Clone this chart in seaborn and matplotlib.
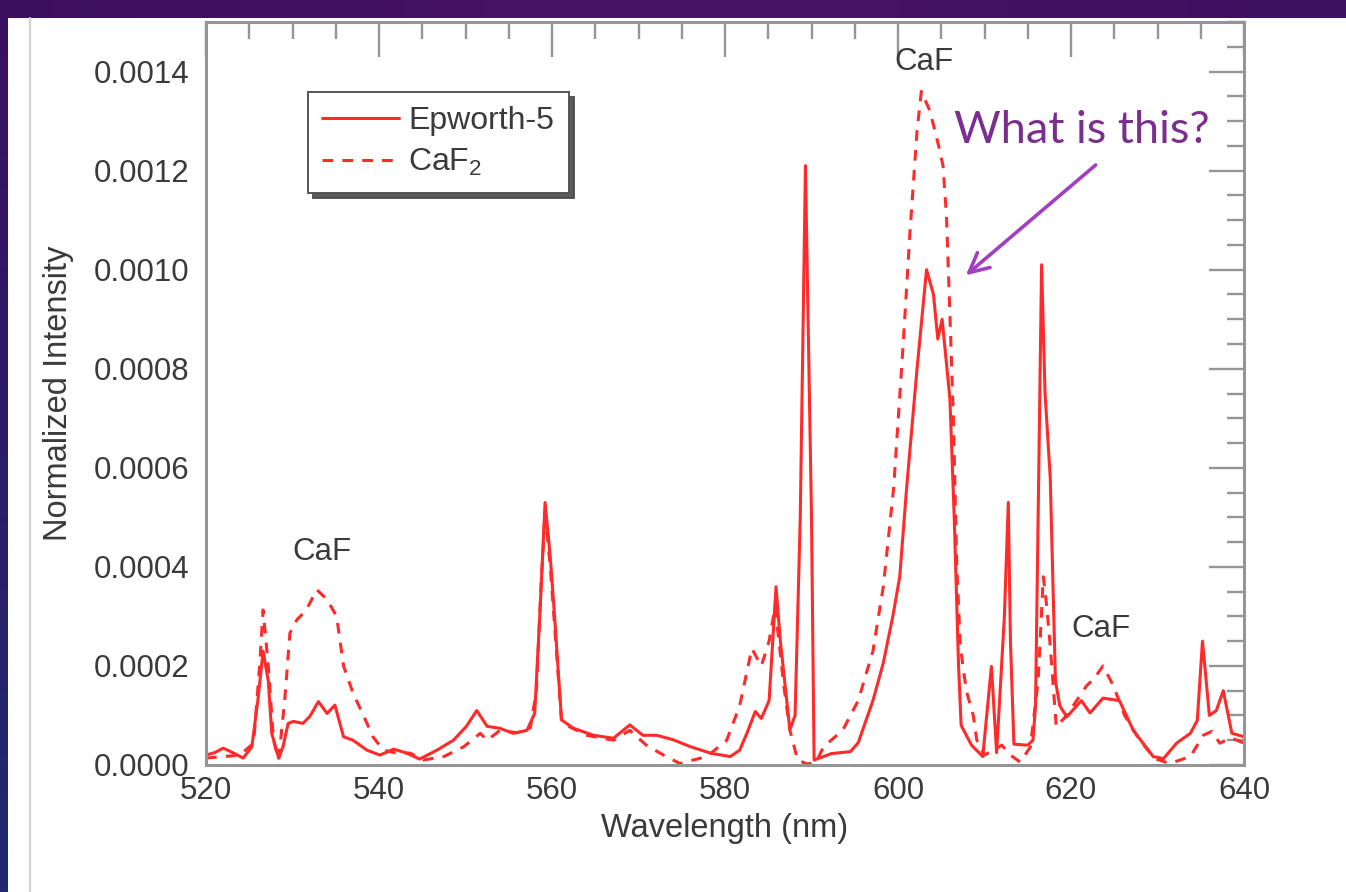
import numpy as np
import pandas as pd
import matplotlib
matplotlib.use("Agg")
import matplotlib.pyplot as plt
import seaborn as sns
from matplotlib.ticker import MultipleLocator, StrMethodFormatter

# ---------------- data ----------------
epworth_nm = [520, 521, 522, 523.2, 524.3, 525.3, 526.0, 526.6, 527.2, 527.6, 528.4, 528.9,
              529.5, 530.1, 531.2, 532.0, 533.0, 534.0, 534.9, 535.9, 537.0, 538.6, 540.1,
              541.7, 543.2, 544.7, 546.7, 548.6, 550.1, 551.3, 552.5, 554.0, 555.5, 557.1,
              558.0, 558.6, 559.2, 559.8, 560.3, 561.1, 562.5, 564.8, 567.1, 569.0, 570.5,
              572.1, 574.0, 576.0, 578.3, 580.6, 581.7, 582.6, 583.5, 584.2, 585.1, 585.9,
              586.4, 587.5, 588.1, 588.7, 589.3, 590.0, 590.3, 592.3, 594.5, 595.4, 597.1,
              598.3, 599.4, 600.2, 601.0, 602.2, 603.3, 604.1, 604.6, 605.1, 606.0, 606.5,
              607.0, 607.3, 608.5, 609.8, 610.8, 611.4, 612.3, 612.75, 613.0, 613.4, 615.0,
              615.6, 615.9, 616.2, 616.6, 617.0, 617.6, 618.2, 618.7, 619.5, 621.2, 622.2,
              623.7, 625.6, 627.2, 629.5, 630.7, 632.2, 633.8, 634.6, 635.2, 636.0, 636.8,
              637.6, 638.6, 640.0]
epworth_int = [0.20, 0.25, 0.34, 0.24, 0.14, 0.37, 1.31, 2.30, 1.70, 0.64, 0.14, 0.37,
               0.84, 0.88, 0.84, 0.98, 1.28, 1.04, 1.21, 0.57, 0.50, 0.30, 0.20,
               0.32, 0.24, 0.12, 0.30, 0.50, 0.78, 1.10, 0.78, 0.74, 0.64, 0.70,
               1.04, 3.06, 5.30, 4.20, 3.00, 0.91, 0.74, 0.60, 0.54, 0.81, 0.60,
               0.60, 0.51, 0.37, 0.24, 0.17, 0.30, 0.67, 1.08, 0.94, 1.30, 3.60,
               2.50, 0.71, 1.00, 5.00, 12.10, 5.00, 0.10, 0.23, 0.27, 0.45, 1.30,
               2.06, 3.00, 3.80, 5.60, 8.00, 10.00, 9.50, 8.60, 9.00, 7.40, 5.00,
               2.00, 0.80, 0.40, 0.17, 1.99, 0.25, 3.00, 5.30, 2.50, 0.42, 0.40,
               0.50, 1.20, 5.00, 10.10, 7.50, 5.80, 1.70, 1.20, 0.97, 1.30, 1.05,
               1.35, 1.30, 0.70, 0.17, 0.13, 0.44, 0.64, 0.90, 2.50, 1.00, 1.10,
               1.50, 0.64, 0.57]

caf2_nm = [520, 522, 523.9, 525.5, 526.2, 526.6, 527.2, 527.8, 528.4, 529.1, 529.7, 530.5,
           531.6, 532.8, 534.0, 535.1, 535.9, 537.0, 538.2, 539.3, 540.5, 542.0, 543.6,
           545.1, 547.5, 549.8, 551.7, 552.5, 554.0, 556.0, 557.5, 558.2, 558.7, 559.2,
           559.8, 560.3, 561.1, 561.7, 564.0, 567.1, 569.0, 570.9, 573.2, 574.8, 576.3,
           577.9, 580.2, 581.7, 583.1, 584.2, 585.1, 585.8, 586.8, 587.5, 588.4, 589.5,
           590.5, 591.4, 593.6, 595.4, 597.1, 598.3, 599.5, 600.6, 601.4, 602.2, 602.7,
           603.7, 604.7, 605.2, 605.6, 606.0, 606.4, 606.8, 607.2, 607.9, 608.7, 609.1,
           610.0, 611.0, 612.0, 613.0, 614.1, 615.3, 616.2, 616.8, 617.2, 617.6, 618.3,
           619.5, 621.8, 622.7, 623.7, 624.9, 626.2, 627.9, 629.7, 631.4, 633.8, 635.3,
           636.3, 637.2, 638.5, 640.0]
caf2_int = [0.14, 0.17, 0.20, 0.44, 2.00, 3.13, 2.00, 0.51, 0.10, 1.31, 2.66, 2.93,
            3.13, 3.54, 3.34, 3.00, 2.00, 1.45, 1.00, 0.57, 0.30, 0.24, 0.24,
            0.10, 0.17, 0.37, 0.64, 0.50, 0.70, 0.65, 0.75, 1.50, 3.50, 5.10,
            4.00, 2.80, 0.90, 0.80, 0.60, 0.50, 0.70, 0.40, 0.17, 0.03, 0.10,
            0.17, 0.50, 1.20, 2.35, 2.00, 2.50, 3.20, 1.60, 0.70, 0.10, 0.02,
            0.05, 0.37, 0.70, 1.30, 2.30, 3.60, 5.60, 8.50, 10.80, 12.80, 13.60,
            13.20, 12.50, 12.10, 11.10, 9.10, 7.00, 4.00, 2.40, 1.50, 1.00, 0.51,
            0.20, 0.30, 0.40, 0.20, 0.06, 0.36, 1.70, 3.80, 3.20, 2.40, 0.77,
            1.00, 1.60, 1.75, 2.00, 1.60, 1.00, 0.51, 0.13, 0.03, 0.17, 0.60,
            0.68, 0.44, 0.55, 0.44]

series_labels = ["Epworth-5", "CaF$_2$"]
x_ticks = [520, 540, 560, 580, 600, 620, 640]
y_ticks = [0.0, 0.0002, 0.0004, 0.0006, 0.0008, 0.0010, 0.0012, 0.0014]
peak_labels = [("CaF", 603.0, 0.00142), ("CaF", 533.4, 0.00043), ("CaF", 623.5, 0.000275)]
question = "What is this?"

df_ep = pd.DataFrame({"nm": epworth_nm, "I": np.array(epworth_int) * 1e-4})
df_caf = pd.DataFrame({"nm": caf2_nm, "I": np.array(caf2_int) * 1e-4})

# ---------------- style ----------------
sns.set_style("white")
plt.rcParams["font.family"] = ["Liberation Sans", "DejaVu Sans"]
plt.rcParams["mathtext.fontset"] = "custom"
plt.rcParams["mathtext.rm"] = "Liberation Sans"
plt.rcParams["mathtext.it"] = "Liberation Sans"

W, H = 1346, 892
fig = plt.figure(figsize=(W / 100, H / 100), dpi=100)
fig.patch.set_facecolor("white")

# slide decoration: top band, left band, thin grey rule
band_ax = fig.add_axes([0, 1 - 18 / H, 1, 18 / H])
grad = np.linspace(0, 1, 256)[None, :]
band_ax.imshow(grad, aspect="auto", cmap=matplotlib.colors.LinearSegmentedColormap.from_list(
    "b", ["#3c0f5e", "#4a1466", "#3d1060"]), extent=[0, 1, 0, 1])
band_ax.axis("off")
left_ax = fig.add_axes([0, 0, 8 / W, 1 - 18 / H])
left_ax.imshow(np.linspace(0, 1, 256)[:, None], aspect="auto",
               cmap=matplotlib.colors.LinearSegmentedColormap.from_list("l", ["#3a1060", "#1e2a6c"]),
               extent=[0, 1, 0, 1])
left_ax.axis("off")
fig.add_artist(plt.Line2D([30 / W, 30 / W], [0, 1 - 18 / H], transform=fig.transFigure,
                          color="#d2d2d2", lw=1.6))

ax = fig.add_axes([206 / W, 1 - 765 / H, 1038 / W, 743 / H])
red = "#ff2a2a"
sns.lineplot(data=df_ep, x="nm", y="I", ax=ax, color=red, lw=2.2, label=series_labels[0],
             estimator=None, sort=False)
sns.lineplot(data=df_caf, x="nm", y="I", ax=ax, color=red, lw=2.2, label=series_labels[1],
             estimator=None, sort=False)
ax.lines[1].set_dashes([3.5, 3])

ax.set_xlim(520, 640)
ax.set_ylim(0, 0.0015)
ax.xaxis.set_major_locator(MultipleLocator(20))
ax.xaxis.set_minor_locator(MultipleLocator(5))
ax.yaxis.set_major_locator(MultipleLocator(0.0002))
ax.yaxis.set_minor_locator(MultipleLocator(0.00005))
ax.yaxis.set_major_formatter(StrMethodFormatter("{x:.4f}"))
ax.set_xticks(x_ticks)
ax.set_yticks(y_ticks)

grey = "#959595"
txt = "#3a3a3a"
for s in ax.spines.values():
    s.set_color(grey)
    s.set_linewidth(2.2)
    s.set_visible(True)
ax.tick_params(which="both", direction="in", top=True, right=True, color=grey,
               width=1.7, labelcolor=txt, labelsize=22.5)
ax.tick_params(which="major", length=25)
ax.tick_params(which="minor", length=12.5)
ax.tick_params(axis="y", pad=12)
ax.tick_params(axis="x", pad=8)

ax.set_xlabel("Wavelength (nm)", fontsize=23.5, color=txt, labelpad=5)
ax.set_ylabel("Normalized Intensity", fontsize=23.5, color=txt, labelpad=14)

leg = ax.legend(loc="upper left", bbox_to_anchor=(0.098, 0.906), borderaxespad=0,
                fontsize=23, frameon=True, fancybox=False, handlelength=2.4,
                handletextpad=0.3, borderpad=0.45, labelspacing=0.35,
                shadow={"ox": 4, "oy": -4, "color": "#4a4a4a", "alpha": 0.9})
leg.get_frame().set_edgecolor("#555555")
leg.get_frame().set_linewidth(1.4)
for t in leg.get_texts():
    t.set_color(txt)

for lab, xx, yy in peak_labels:
    ax.text(xx, yy, lab, fontsize=22.5, color=txt, ha="center", va="center")

ax.text(621.2, 0.00128, question, fontsize=32.5, color="#7a2e8e", ha="center", va="center",
        family=["Lato", "DejaVu Sans"])
ax.annotate("", xy=(607.6, 0.000985), xytext=(623.1, 0.001215),
            arrowprops=dict(arrowstyle="->,head_length=0.7,head_width=0.35",
                            color="#a23fc0", lw=2.6, mutation_scale=20))

fig.savefig("out.png", dpi=100, facecolor="white")
